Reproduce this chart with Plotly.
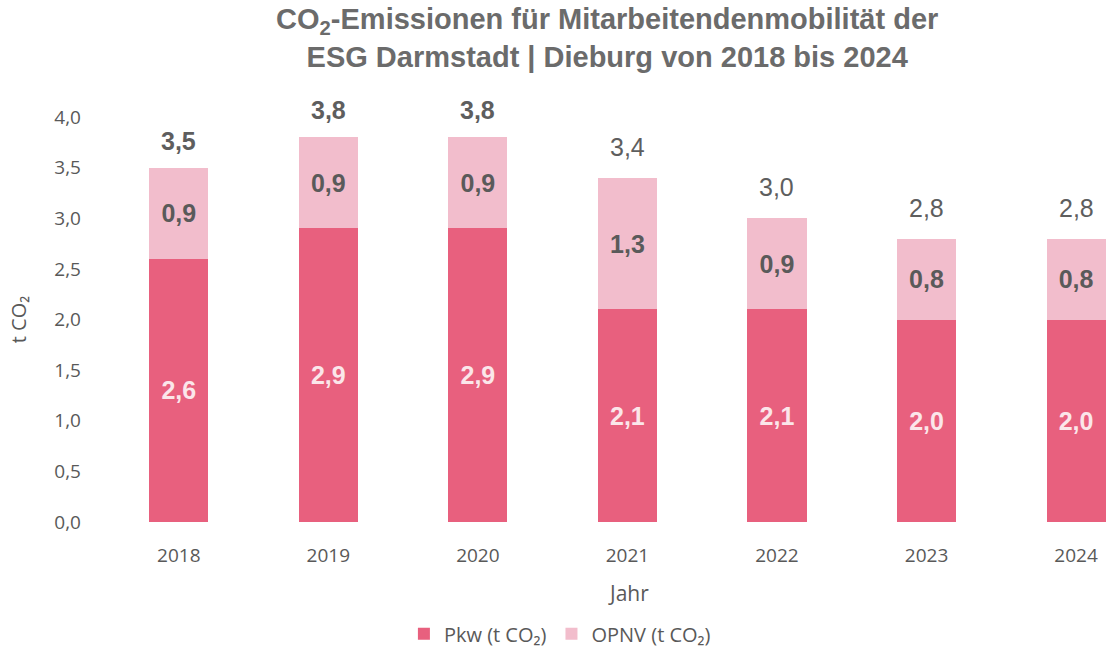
import plotly.graph_objects as go

years = ["2018", "2019", "2020", "2021", "2022", "2023", "2024"]
pkw = [2.6, 2.9, 2.9, 2.1, 2.1, 2.0, 2.0]
opnv = [0.9, 0.9, 0.9, 1.3, 0.9, 0.8, 0.8]
totals = [3.5, 3.8, 3.8, 3.4, 3.0, 2.8, 2.8]
total_bold = [True, True, True, False, False, False, False]
y_ticks = [0.0, 0.5, 1.0, 1.5, 2.0, 2.5, 3.0, 3.5, 4.0]

def fmt(v):
    return f"{v:.1f}".replace(".", ",")

fig = go.Figure()
fig.add_trace(go.Bar(
    x=years, y=pkw, name="Pkw (t CO₂)",
    marker=dict(color="#e8607e", line=dict(width=0)),
    text=[fmt(v) for v in pkw], textposition="inside", insidetextanchor="middle",
    textfont=dict(family="Liberation Sans, Arial", size=25, color="#fbe6ea", weight="bold"),
    width=0.395,
))
fig.add_trace(go.Bar(
    x=years, y=opnv, name="OPNV (t CO₂)",
    marker=dict(color="#f2bdcc", line=dict(width=0)),
    text=[fmt(v) for v in opnv], textposition="inside", insidetextanchor="middle",
    textfont=dict(family="Liberation Sans, Arial", size=25, color="#5a5a5a", weight="bold"),
    width=0.395,
))

for i, (tot, b) in enumerate(zip(totals, total_bold)):
    fig.add_annotation(
        x=i, y=tot, xref="x", yref="y", text=fmt(tot), showarrow=False,
        yanchor="middle", yshift=27 if b else 31,
        font=dict(family="Liberation Sans, Arial", size=25, color="#5e5e5e",
                  weight="bold" if b else "normal"),
    )

fig.add_annotation(
    x=0.523, y=-0.175, xref="paper", yref="paper", text="Jahr", showarrow=False,
    xanchor="center", yanchor="middle",
    font=dict(family="Open Sans", size=21, color="#595959"),
)

fig.update_layout(
    width=1106, height=647,
    barmode="stack",
    separators=", ",
    plot_bgcolor="white", paper_bgcolor="white",
    margin=dict(l=104, r=0, t=117, b=125, autoexpand=False),
    title=dict(
        text="CO<sub>2</sub>-Emissionen für Mitarbeitendenmobilität der<br>ESG Darmstadt | Dieburg von 2018 bis 2024",
        x=0.549, xanchor="center", y=0.955, yanchor="top",
        font=dict(family="Liberation Sans, Arial", size=29, color="#6b6b6b", weight="bold"),
    ),
    xaxis=dict(
        type="category",
        range=[-0.5, 6.2], showgrid=False, showline=False, zeroline=False,
        tickfont=dict(family="Open Sans", size=19, color="#595959"),
        ticks="", ticklabelstandoff=20, automargin=False,
    ),
    yaxis=dict(
        range=[0, 4.0], tickvals=y_ticks, ticktext=[fmt(v) for v in y_ticks],
        showgrid=False, showline=False, zeroline=False,
        tickfont=dict(family="Open Sans", size=19, color="#595959"),
        title=dict(text="t CO₂", font=dict(family="Open Sans", size=20, color="#595959"), standoff=22),
        ticks="", ticklabelstandoff=22, automargin=False,
    ),
    legend=dict(
        orientation="h", x=0.455, xanchor="center", y=-0.228, yanchor="top",
        font=dict(family="Open Sans", size=20, color="#595959"),
        itemwidth=30, traceorder="normal",
    ),
)

fig.write_html("out.html", config={"displayModeBar": False},
               post_script="document.body.style.margin='0px';")
